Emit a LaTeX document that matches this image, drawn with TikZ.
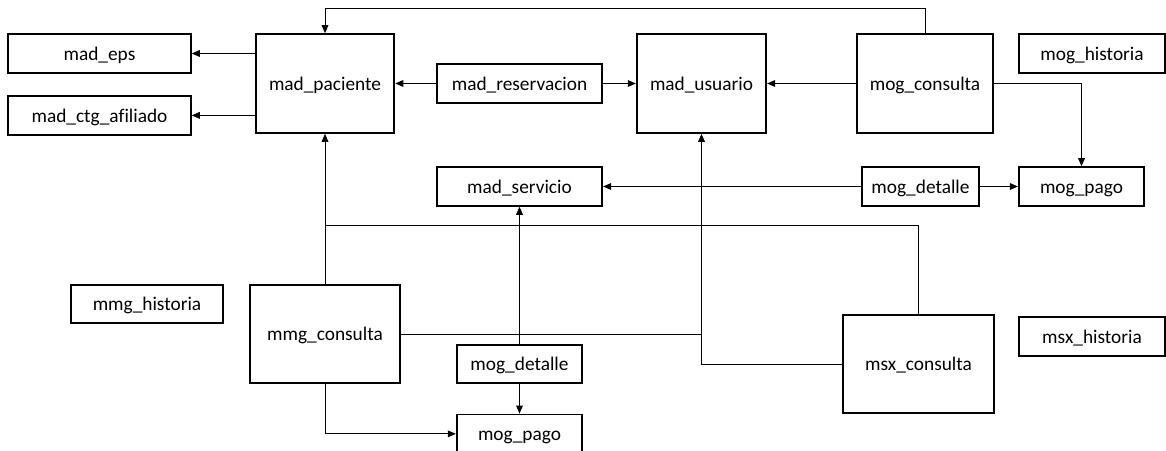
\documentclass[tikz,border=0pt]{standalone}
\usepackage{fontspec}
\setmainfont{Carlito}[Ligatures=CommonOff]
\usepackage{tikz}
\usetikzlibrary{arrows.meta,positioning}

\begin{document}
\begin{tikzpicture}[x=0.75pt,y=-0.75pt,
    >={Triangle[length=6pt,width=5pt]},
    tabla/.style={draw,line width=1.4pt,inner sep=0pt,
      font=\fontsize{14.5}{17}\selectfont,text height=1.2em,text depth=0.2em},
    alta/.style={tabla,minimum height=74pt},
    baja/.style={tabla,minimum height=29pt},
    enlace/.style={line width=0.75pt}]
    \useasboundingbox (0,0) rectangle (1166,450);
    \node[baja,minimum width=137pt] (eps) at (99.5,53.5) {mad\_eps};
    \node[baja,minimum width=137pt] (ctg) [below=16pt of eps] {mad\_ctg\_afiliado};
    \node[alta,minimum width=104pt] (pac) at (325,83.5) {mad\_paciente};
    \node[baja,minimum width=124pt] (res) at (519.5,83.5) {mad\_reservacion};
    \node[alta,minimum width=97pt] (usu) at (701.5,83.5) {mad\_usuario};
    \node[alta,minimum width=102pt] (mogc) at (925,83.5) {mog\_consulta};
    \node[baja,minimum width=109pt] (mogh) at (1092,53.5) {mog\_historia};
    \node[baja,minimum width=124pt] (serv) at (519.5,186.5) {mad\_servicio};
    \node[baja,minimum width=88pt] (mogd) at (920.5,186.5) {mog\_detalle};
    \node[baja,minimum width=94pt] (mogp) at (1081.5,186.5) {mog\_pago};
    \node[baja,minimum width=114pt] (mmgh) at (147,304) {mmg\_historia};
    \node[alta,minimum width=112pt] (mmgc) at (325,334) {mmg\_consulta};
    \node[baja,minimum width=94pt] (mogd2) at (519.5,364) {mog\_detalle};
    \node[baja,minimum width=94pt] (mogp2) [below=22pt of mogd2] {mog\_pago};
    \node[alta,minimum width=113pt] (msxc) at (918.5,364) {msx\_consulta};
    \node[baja,minimum width=109pt] (msxh) at (1092,336.5) {msx\_historia};
    \coordinate (cruce) at (325,225);
    \coordinate (union) at (usu.south |- mmgc.east);
    \path[enlace,->]
    (pac.west |- eps) edge (eps)
    (pac.west |- ctg) edge (ctg)
    (res) edge (pac)
        edge (usu)
    (mogc) edge (usu)
    (mogd) edge (serv)
        edge (mogp)
    (mmgc) edge (pac)
    (mogd2) edge (serv)
        edge (mogp2);
    \draw[enlace,->] (mogc.north) -- ++(0,-25) -| (pac.north);
    \draw[enlace,->] (mogc.east) -| (mogp.north);
    \draw[enlace] (msxc.north) |- (cruce);
    \draw[enlace,->] (mmgc.east) -| (usu.south);
    \draw[enlace] (msxc.west) -| (union);
    \draw[enlace,->] (mmgc.south) |- (mogp2.west);
\end{tikzpicture}
\end{document}
